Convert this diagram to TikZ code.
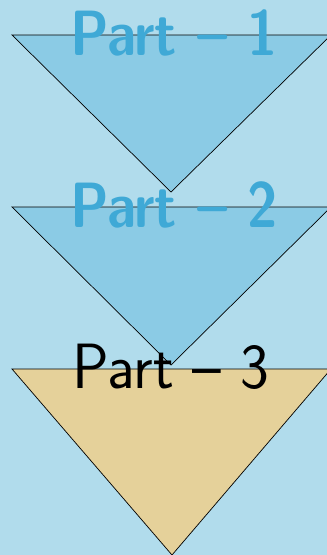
\documentclass[tikz,border=0pt]{standalone}
\definecolor{bgc}{HTML}{B1DCEC}
\definecolor{trib}{HTML}{8BCBE5}
\definecolor{trit}{HTML}{E5D19A}
\definecolor{txtb}{HTML}{3FA9D6}
\newcommand{\bnarrow}[1]{\scalebox{0.86}[1]{#1}}
\newcommand{\rnarrow}[1]{\scalebox{0.955}[1]{#1}}
\begin{document}
\begin{tikzpicture}[x=1pt,y=-1pt,
  tri/.style={draw=black,line width=0.7pt,line join=miter},
  lbl/.style={anchor=base,inner sep=0pt,font=\fontsize{64}{64}\selectfont\sffamily},
  lblb/.style={lbl,text=txtb,font=\fontsize{64}{64}\selectfont\sffamily\bfseries}]
\fill[bgc] (0,0) rectangle (327,555);
\useasboundingbox (0,0) rectangle (327,555);
\coordinate (a1) at (12,35); \coordinate (b1) at (331,35); \coordinate (c1) at (171,192);
\coordinate (a2) at (12,207); \coordinate (b2) at (331,207); \coordinate (c2) at (171,365);
\coordinate (a3) at (12,369); \coordinate (b3) at (331,369); \coordinate (c3) at (172,555);
\filldraw[tri,fill=trib] (a1) -- (b1) -- (c1) -- cycle;
\node[lblb] (t1) at (174,55) {\bnarrow{Part -- 1}};
\filldraw[tri,fill=trib] (a2) -- (b2) -- (c2) -- cycle;
\node[lblb] (t2) at (174,227) {\bnarrow{Part -- 2}};
\filldraw[tri,fill=trit] (a3) -- (b3) -- (c3) -- cycle;
\node[lbl] (t3) at (171,388) {\rnarrow{Part -- 3}};
\end{tikzpicture}
\end{document}
